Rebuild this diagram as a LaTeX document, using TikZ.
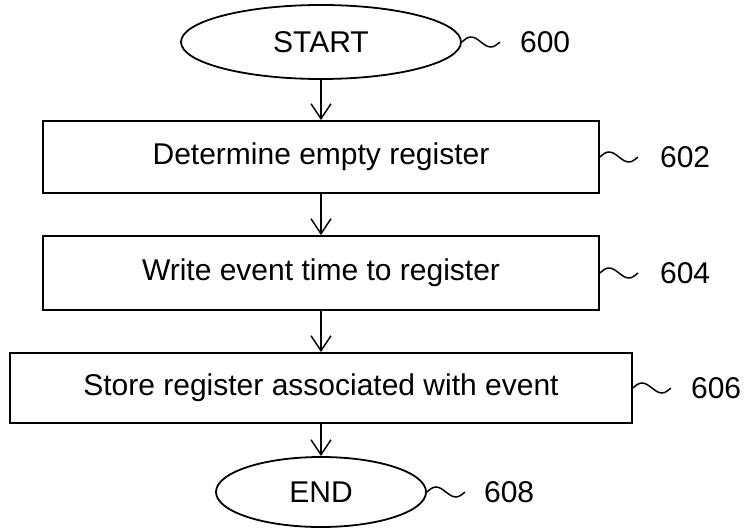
\documentclass[tikz,border=0pt]{standalone}
\usepackage{fontspec}
\setmainfont{Liberation Sans}
\usetikzlibrary{shapes.geometric,arrows.meta}
\begin{document}
\begin{tikzpicture}[x=1pt,y=-1pt,
  every node/.style={font=\fontsize{30}{35}\selectfont},
  term/.style={draw,ellipse,line width=1.8pt,inner sep=0pt},
  proc/.style={draw,rectangle,line width=1.8pt,inner sep=0pt},
  flow/.style={line width=1.5pt,-{Straight Barb[length=15pt,width=20pt,line width=1.5pt]}},
  squig/.style={line width=1.5pt},
  lbl/.style={anchor=west,inner sep=0pt}]
\useasboundingbox (0,0) rectangle (751,529);
\node[term,minimum width=280pt,minimum height=74pt] (start) at (321,42) {START};
\node[proc,minimum width=556pt,minimum height=72pt] (b602) at (321,157) {Determine empty register};
\node[proc,minimum width=556pt,minimum height=74pt] (b604) at (321,273) {Write event time to register};
\node[proc,minimum width=622pt,minimum height=70pt] (b606) at (321,388) {Store register associated with event};
\node[term,minimum width=210pt,minimum height=70pt] (end) at (321,492) {END};

\draw[flow] (start.south) -- (b602.north);
\draw[flow] (b602.south) -- (b604.north);
\draw[flow] (b604.south) -- (b606.north);
\draw[flow] (b606.south) -- (end.north);

\draw[squig] (start.east) sin ++(9,-5) cos ++(10,5) sin ++(10,5) cos ++(9,-5) coordinate (s600);
\node[lbl] (l600) at ([xshift=20pt]s600) {600};
\draw[squig] (b602.east) sin ++(9,-5) cos ++(10,5) sin ++(10,5) cos ++(9,-5) coordinate (s602);
\node[lbl] (l602) at ([xshift=22pt]s602) {602};
\draw[squig] (b604.east) sin ++(9,-5) cos ++(10,5) sin ++(10,5) cos ++(9,-5) coordinate (s604);
\node[lbl] (l604) at ([xshift=22pt]s604) {604};
\draw[squig] (b606.east) sin ++(9,-5) cos ++(10,5) sin ++(10,5) cos ++(9,-5) coordinate (s606);
\node[lbl] (l606) at ([xshift=20pt]s606) {606};
\draw[squig] (end.east) sin ++(9,-5) cos ++(10,5) sin ++(10,5) cos ++(9,-5) coordinate (s608);
\node[lbl] (l608) at ([xshift=19pt]s608) {608};
\end{tikzpicture}
\end{document}
